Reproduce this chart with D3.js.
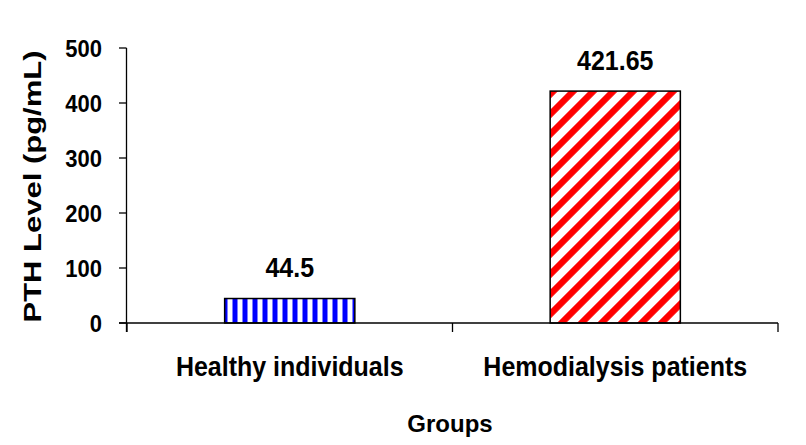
<!DOCTYPE html>
<html>
<head>
<meta charset="utf-8">
<script src="https://cdn.jsdelivr.net/npm/d3@7"></script>
<style>
  html, body { margin: 0; padding: 0; background: #fff; }
  svg { display: block; font-family: "Liberation Sans", Arial, sans-serif; font-weight: bold; }
</style>
</head>
<body>
<svg id="chart"></svg>
<script>
const width = 806;
const height = 445;

const groups = ["Healthy individuals", "Hemodialysis patients"];
const pthValues = [44.5, 421.65];
const valueLabels = ["44.5", "421.65"];
const yTicks = [0, 100, 200, 300, 400, 500];
const fills = ["url(#blueStripes)", "url(#redDiagonal)"];

const svg = d3.select("#chart")
    .attr("width", width)
    .attr("height", height);

// Patterns
const defs = svg.append("defs");

const blue = defs.append("pattern")
    .attr("id", "blueStripes")
    .attr("patternUnits", "userSpaceOnUse")
    .attr("width", 10)
    .attr("height", 10);
blue.append("rect").attr("width", 10).attr("height", 10).attr("fill", "#fff");
blue.append("rect").attr("x", 2.5).attr("width", 5).attr("height", 10).attr("fill", "#0000ff");

const red = defs.append("pattern")
    .attr("id", "redDiagonal")
    .attr("patternUnits", "userSpaceOnUse")
    .attr("width", 14.14)
    .attr("height", 14.14)
    .attr("patternTransform", "rotate(45)");
red.append("rect").attr("width", 14.14).attr("height", 14.14).attr("fill", "#fff");
red.append("rect").attr("width", 6.5).attr("height", 14.14).attr("fill", "#ff0000");

// Scales
const x = d3.scaleBand()
    .domain(groups)
    .range([127, 778])
    .paddingInner(0.6)
    .paddingOuter(0.3);

const y = d3.scaleLinear()
    .domain([0, 500])
    .range([323, 48]);

const step = x.step();
const center = d => x(d) + x.bandwidth() / 2;

// Bars
svg.selectAll(".bar")
    .data(groups)
    .enter()
    .append("rect")
    .attr("class", "bar")
    .attr("x", d => x(d))
    .attr("y", (d, i) => y(pthValues[i]))
    .attr("width", x.bandwidth())
    .attr("height", (d, i) => y(0) - y(pthValues[i]))
    .attr("fill", (d, i) => fills[i])
    .attr("stroke", "#000")
    .attr("stroke-width", 1.5);

// Y axis
svg.append("line")
    .attr("x1", 126.5).attr("x2", 126.5)
    .attr("y1", y(500)).attr("y2", y(0) + 9)
    .attr("stroke", "#000").attr("stroke-width", 1.3);

svg.selectAll(".ytick")
    .data(yTicks)
    .enter()
    .append("line")
    .attr("x1", 119).attr("x2", 126.5)
    .attr("y1", d => y(d)).attr("y2", d => y(d))
    .attr("stroke", "#000").attr("stroke-width", 1.3);

svg.selectAll(".ylabel")
    .data(yTicks)
    .enter()
    .append("text")
    .attr("transform", d => `translate(102, ${y(d)}) scale(1, 1.08)`)
    .attr("dy", "0.36em")
    .attr("text-anchor", "end")
    .attr("font-size", 22)
    .text(d => d);

// X axis
svg.append("line")
    .attr("x1", 119).attr("x2", 778)
    .attr("y1", y(0)).attr("y2", y(0))
    .attr("stroke", "#000").attr("stroke-width", 1.3);

const boundaries = [center(groups[0]) - step / 2, center(groups[0]) + step / 2, center(groups[1]) + step / 2];
svg.selectAll(".xtick")
    .data(boundaries)
    .enter()
    .append("line")
    .attr("x1", d => d).attr("x2", d => d)
    .attr("y1", y(0)).attr("y2", y(0) + 9)
    .attr("stroke", "#000").attr("stroke-width", 1.3);

svg.selectAll(".xlabel")
    .data(groups)
    .enter()
    .append("text")
    .attr("transform", d => `translate(${center(d)}, 376) scale(1, 1.1)`)
    .attr("text-anchor", "middle")
    .attr("font-size", 25)
    .text(d => d);

// Value labels
svg.selectAll(".value")
    .data(groups)
    .enter()
    .append("text")
    .attr("transform", (d, i) => `translate(${center(d)}, ${y(pthValues[i]) - 21.5}) scale(1, 1.1)`)
    .attr("text-anchor", "middle")
    .attr("font-size", 25)
    .text((d, i) => valueLabels[i]);

// Axis titles
svg.append("text")
    .attr("x", 450)
    .attr("y", 432)
    .attr("text-anchor", "middle")
    .attr("font-size", 24)
    .text("Groups");

svg.append("text")
    .attr("transform", "translate(41, 186.5) rotate(-90)")
    .attr("text-anchor", "middle")
    .attr("font-size", 23)
    .attr("textLength", 272)
    .attr("lengthAdjust", "spacingAndGlyphs")
    .text("PTH Level (pg/mL)");
</script>
</body>
</html>
